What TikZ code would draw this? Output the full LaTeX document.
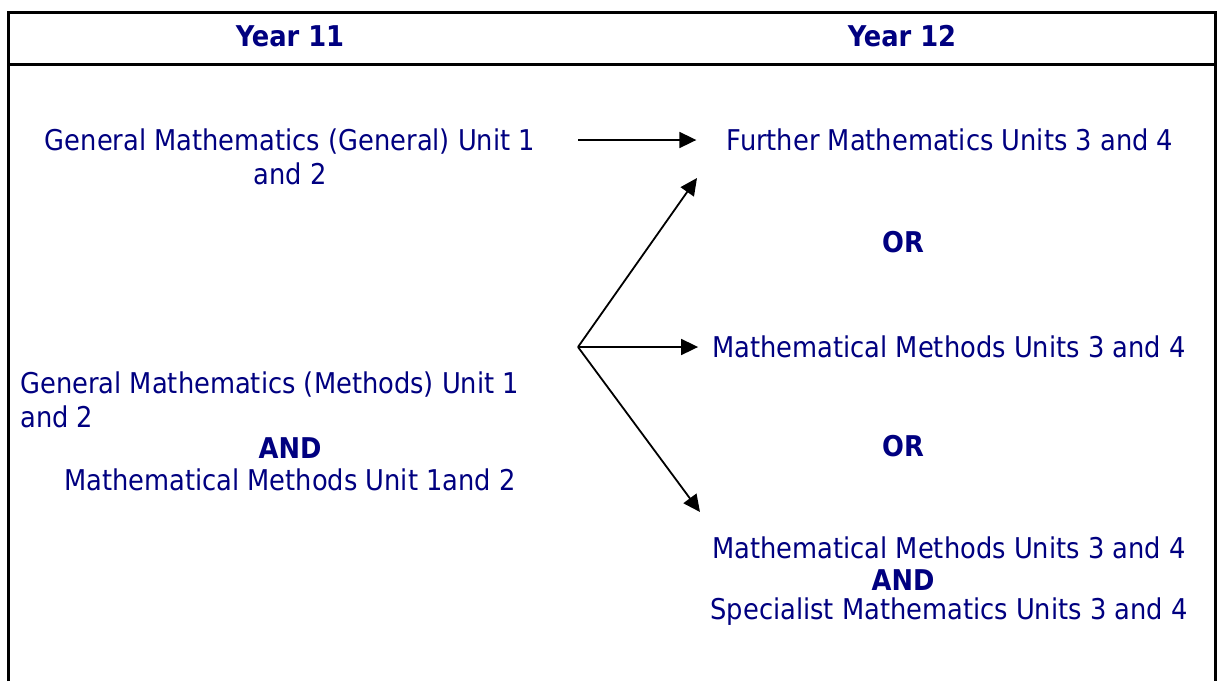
\documentclass[tikz,border=0pt]{standalone}
\usepackage{fontspec}
\setmainfont{DejaVu Sans Condensed}
\usepackage{tikz}
\usetikzlibrary{arrows.meta, positioning, calc}
\definecolor{NavyText}{RGB}{0, 0, 128}

\begin{document}
\begin{tikzpicture}[x=0.5pt, y=-0.5pt,
            entry/.style={text=NavyText, font=\fontsize{14.3}{17}\selectfont, inner sep=0pt},
            joiner/.style={entry, font=\fontsize{14.3}{17}\selectfont\bfseries},
            rule/.style={line width=1.5pt},
            link/.style={line width=0.9pt, -{Triangle[length=8.5pt, width=8pt]}}
        ]
        \useasboundingbox (0,0) rectangle (1217,681);

        % The Table
        \draw[rule] (8,681) -- (8,12) -- (1215,12) -- (1215,681);
        \draw[rule] (8,64) -- (1215,64);
        \node[joiner] (y11) at (290,36) {Year 11};
        \node[joiner] (y12) at (902,36) {Year 12};

        % Year 11
        \node[entry, align=center] (gen) at (290,157) {General Mathematics (General) Unit 1\\and 2};
        \node[entry, align=left, anchor=west] (genm) at (20,400) {General Mathematics (Methods) Unit 1\\and 2};
        \node[joiner] (and1) at (290,448) {AND};
        \node[entry] (mmu) at (290,480) {Mathematical Methods Unit 1and 2};

        % Year 12
        \node[entry] (fm) at (950,140) {Further Mathematics Units 3 and 4};
        \node[joiner] (or1) at (903,242) {OR};
        \node[entry] (mm) at (949,347) {Mathematical Methods Units 3 and 4};
        \node[joiner] (or2) at (903,446) {OR};
        \node[entry] (mm2) at (949,548) {Mathematical Methods Units 3 and 4};
        \node[joiner] (and2) at (903,580) {AND};
        \node[entry] (sm) at (949,612) {Specialist Mathematics Units 3 and 4};

        % Arrows
        \coordinate (gstart) at (578,140);
        \coordinate (fork) at (578,347);
        \coordinate (uptip) at (697,178);
        \coordinate (downtip) at (700,512);
        \draw[link, shorten >=15pt] (gstart) -- (fm.west);
        \draw[link] (fork) -- (uptip);
        \draw[link, shorten >=7pt] (fork) -- (mm.west);
        \draw[link] (fork) -- (downtip);

        \end{tikzpicture}
\end{document}
